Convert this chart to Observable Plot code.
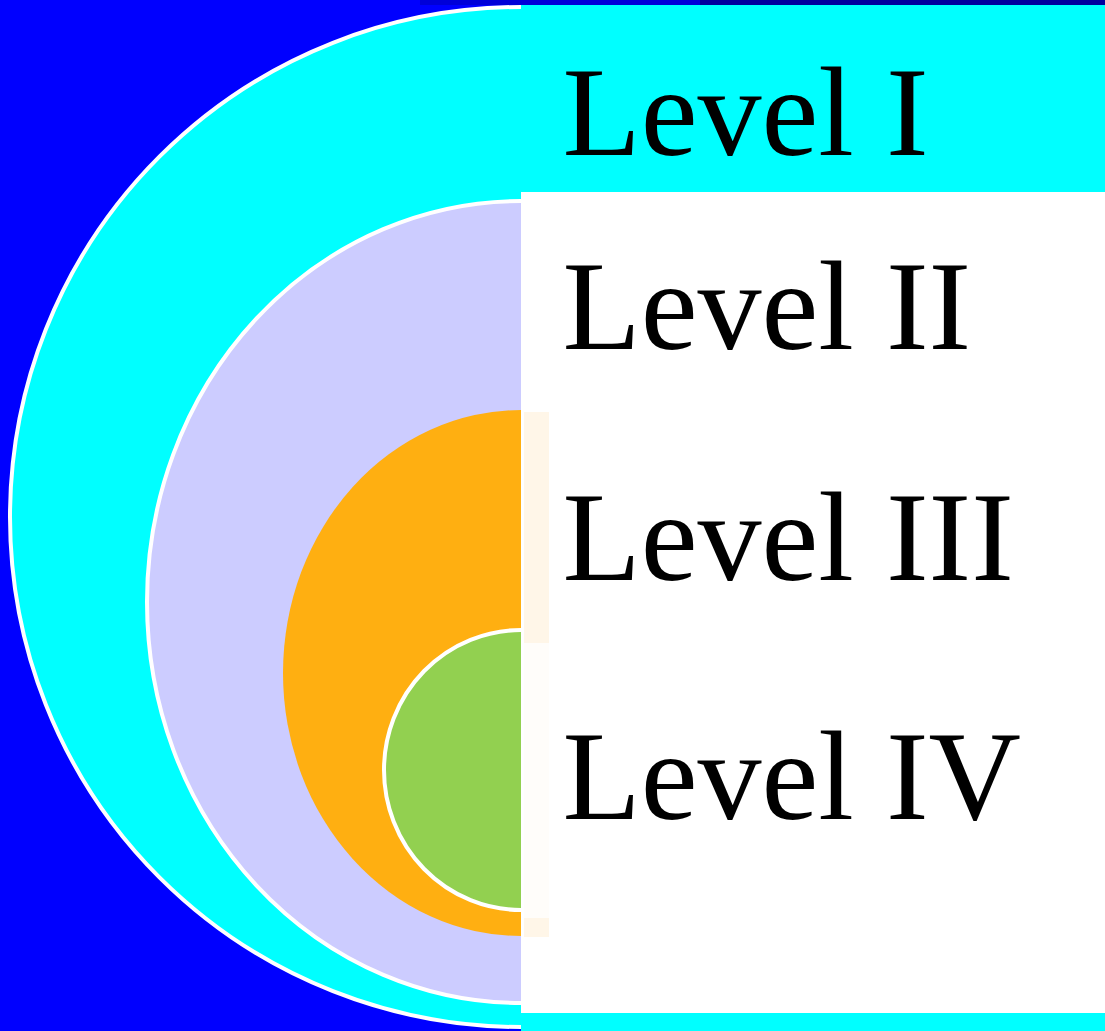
<!DOCTYPE html>
<html>
<head>
<meta charset="utf-8">
<script src="https://cdn.jsdelivr.net/npm/d3@7"></script>
<script src="https://cdn.jsdelivr.net/npm/@observablehq/plot@0.6"></script>
<style>
  html, body { margin: 0; padding: 0; background: #0000FF; overflow: hidden; }
  #chart svg { display: block; }
</style>
</head>
<body>
<div id="chart"></div>
<script>
// ---- data ----
const levels = ["Level I", "Level II", "Level III", "Level IV"];
const ringFill = ["#00FFFF", "#CCCCFF", "#FFAF11", "#92D050"];
const ringStrokeWidth = [4, 4, 0, 4];
const ringCx = [521, 521, 521, 521];
const ringCy = [517, 602, 673, 770];
const ringRx = [511, 374, 238, 137];
const ringRy = [510, 401, 263, 140];
const labelX = [562, 562, 562, 562];
const labelY = [114, 308, 539, 778];
// right-hand panel bands: [x1, x2, y1, y2, fill]
const bandX1 = [420, 700, 521, 521, 521, 524, 524];
const bandX2 = [700, 1105, 1105, 1105, 1105, 549, 549];
const bandY1 = [0, 0, 5, 5, 1013, 412, 643];
const bandY2 = [5, 5, 1031, 192, 1031, 937, 918];
const bandFill = ["#0000D8", "#00009E", "#FFFFFF", "#00FFFF", "#00FFFF", "#FFF6E8", "#FFFDFA"];

const W = 1105, H = 1031;

const rings = levels.map((name, i) => ({
  name, fill: ringFill[i], sw: ringStrokeWidth[i],
  cx: ringCx[i], cy: ringCy[i], rx: ringRx[i], ry: ringRy[i]
}));
const labels = levels.map((name, i) => ({name, x: labelX[i], y: labelY[i]}));
const bands = bandFill.map((fill, i) => ({fill, x1: bandX1[i], x2: bandX2[i], y1: bandY1[i], y2: bandY2[i]}));

const ringMarks = rings.map(r => Plot.rect([r], {
  x1: d => d.cx - d.rx, x2: d => d.cx + d.rx,
  y1: d => d.cy - d.ry, y2: d => d.cy + d.ry,
  fill: d => d.fill,
  stroke: r.sw > 0 ? "white" : "none",
  strokeWidth: r.sw,
  rx: 5000, ry: 5000
}));

const chart = Plot.plot({
  width: W, height: H,
  margin: 0,
  x: {domain: [0, W], range: [0, W], axis: null},
  y: {domain: [0, H], range: [0, H], axis: null},
  style: {background: "#0000FF"},
  marks: [
    ...ringMarks,
    Plot.rect(bands, {x1: "x1", x2: "x2", y1: "y1", y2: "y2", fill: d => d.fill}),
    Plot.text(labels, {
      x: "x", y: "y", text: "name",
      textAnchor: "start",
      fontSize: 128,
      fontFamily: "'Liberation Serif', 'Times New Roman', serif",
      fill: "black"
    })
  ]
});
document.getElementById("chart").append(chart);
</script>
</body>
</html>
